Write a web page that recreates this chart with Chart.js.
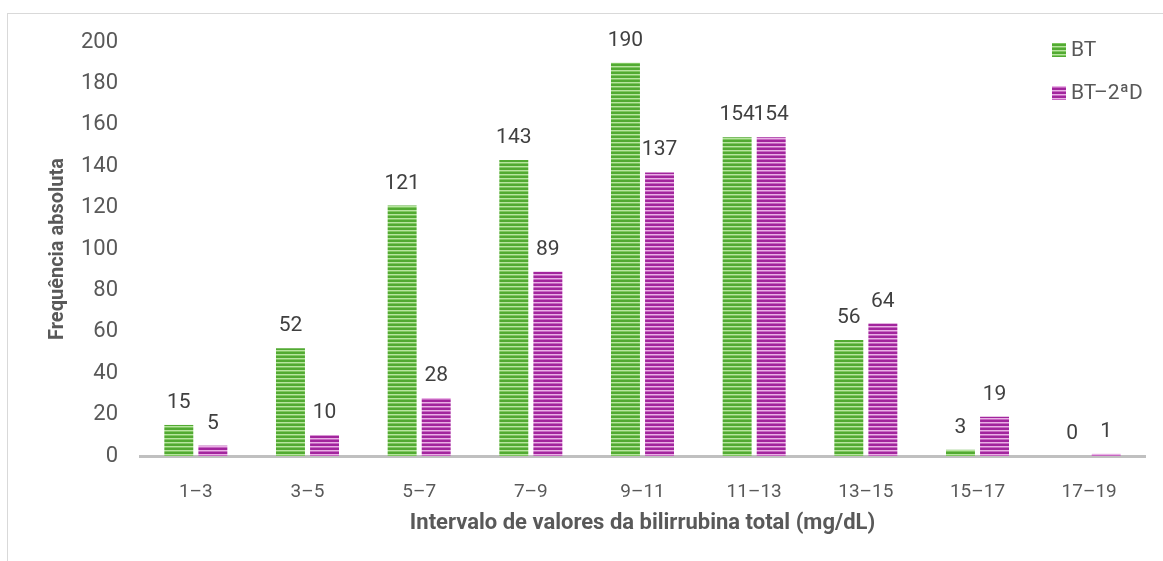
<!DOCTYPE html>
<html>
<head>
<meta charset="utf-8">
<script src="https://cdn.jsdelivr.net/npm/chart.js@4.4.1/dist/chart.umd.min.js"></script>
<style>
  html, body { margin: 0; padding: 0; background: #fff; }
  #wrap { position: relative; width: 1163px; height: 561px; overflow: hidden; }
  #frame { position: absolute; left: 7px; top: 13px; width: 1170px; height: 570px; border: 1px solid #d9d9d9; box-sizing: border-box; }
  #chart { position: absolute; left: 0; top: 0; }
</style>
</head>
<body>
<div id="wrap">
  <div id="frame"></div>
  <canvas id="chart" width="1163" height="561"></canvas>
</div>
<script>
// Intervalos de bilirrubina total e frequências
const intervalos = ['1–3', '3–5', '5–7', '7–9', '9–11', '11–13', '13–15', '15–17', '17–19'];
const serieBT = [15, 52, 121, 143, 190, 154, 56, 3, 0];
const serieBT2D = [5, 10, 28, 89, 137, 154, 64, 19, 1];
const nomesSeries = ['BT', 'BT–2ªD'];
const yTicks = [0, 20, 40, 60, 80, 100, 120, 140, 160, 180, 200];

const FONT = 'Roboto, "Noto Sans", sans-serif';

// padrão de listras horizontais para as barras
function listras(escuro, claro, meio) {
    const c = document.createElement('canvas');
    c.width = 4; c.height = 4;
    const g = c.getContext('2d');
    g.fillStyle = escuro; g.fillRect(0, 0, 4, 2);
    g.fillStyle = claro; g.fillRect(0, 2, 4, 1);
    g.fillStyle = meio; g.fillRect(0, 3, 4, 1);
    return g.createPattern(c, 'repeat');
}

const verde = listras('#52aa32', '#b8e5a0', '#7fc760');
const magenta = listras('#a2259d', '#eab0e6', '#c668c1');
const coresLegenda = [verde, magenta];

// rótulos de valor por cima das barras + legenda vertical
const rotulosPlugin = {
    id: 'rotulos',
    afterDatasetsDraw(chart) {
        const ctx = chart.ctx;
        ctx.save();
        ctx.font = '21px ' + FONT;
        ctx.fillStyle = '#404040';
        ctx.textAlign = 'center';
        ctx.textBaseline = 'alphabetic';
        chart.data.datasets.forEach((ds, i) => {
            const meta = chart.getDatasetMeta(i);
            meta.data.forEach((bar, j) => {
                ctx.fillText(String(ds.data[j]), bar.x, bar.y - 17);
            });
        });

        // legenda
        ctx.textAlign = 'left';
        ctx.textBaseline = 'middle';
        nomesSeries.forEach((nome, i) => {
            const y = 50 + i * 43;
            ctx.fillStyle = coresLegenda[i];
            ctx.fillRect(1052, y - 7, 14, 14);
            ctx.fillStyle = '#595959';
            ctx.fillText(nome, 1071, y + 1);
        });
        ctx.restore();
    }
};

new Chart(document.getElementById('chart'), {
    type: 'bar',
    data: {
        labels: intervalos,
        datasets: [
            { label: nomesSeries[0], data: serieBT, backgroundColor: verde, borderWidth: 0 },
            { label: nomesSeries[1], data: serieBT2D, backgroundColor: magenta, borderWidth: 0 }
        ]
    },
    options: {
        responsive: false,
        animation: false,
        events: [],
        datasets: {
            bar: { categoryPercentage: 0.61, barPercentage: 0.85 }
        },
        layout: { padding: { left: 46, right: 18, top: 42, bottom: 24 } },
        plugins: {
            legend: { display: false },
            tooltip: { enabled: false }
        },
        scales: {
            x: {
                grid: { display: false },
                border: { display: true, color: '#c0c0c0', width: 3 },
                ticks: { color: '#595959', font: { family: FONT, size: 19 }, padding: 17, maxRotation: 0 },
                title: {
                    display: true,
                    text: 'Intervalo de valores da bilirrubina total (mg/dL)',
                    color: '#595959',
                    font: { family: FONT, size: 22, weight: 'bold' },
                    padding: { top: 8, bottom: 0 }
                },
                afterFit(scale) { scale.height = 81; }
            },
            y: {
                min: 0,
                max: 200,
                grid: { display: false },
                border: { display: false },
                afterBuildTicks(scale) { scale.ticks = yTicks.map(v => ({ value: v })); },
                ticks: { color: '#595959', font: { family: FONT, size: 22 }, padding: 14 },
                title: {
                    display: true,
                    text: 'Frequência absoluta',
                    color: '#595959',
                    font: { family: FONT, size: 20, weight: 'bold' },
                    padding: { top: 0, bottom: 0 }
                },
                afterFit(scale) { scale.width = 94; }
            }
        }
    },
    plugins: [rotulosPlugin]
});
</script>
</body>
</html>
